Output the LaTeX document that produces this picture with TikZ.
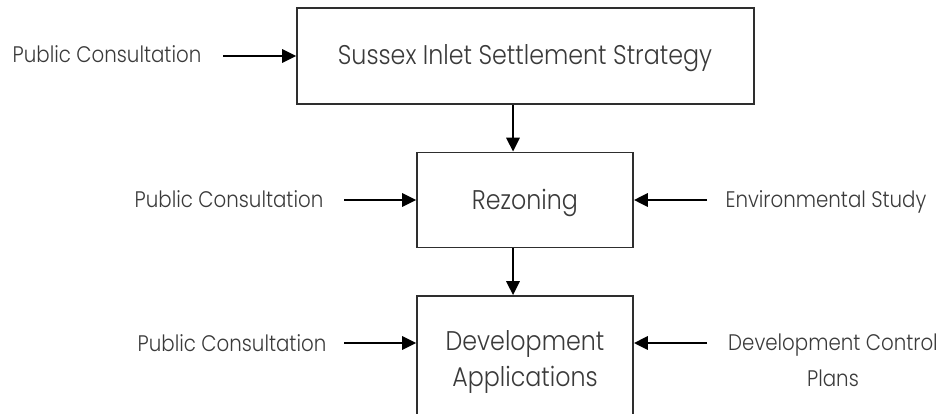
\documentclass[tikz,border=0pt]{standalone}
\usepackage{fontspec}
\setmainfont{Poppins Light}[FakeStretch=0.88]
\usetikzlibrary{arrows.meta}
\definecolor{txt}{HTML}{3A3A3A}
\definecolor{edge}{HTML}{2E2E2E}
\tikzset{
  x=1pt, y=-1pt,
  box/.style={draw=edge, line width=1.6pt, fill=white, inner sep=0pt},
  lbl/.style={text=txt, font=\fontsize{22.5}{26}\selectfont, inner sep=0pt, anchor=base},
  boxtxt/.style={text=txt, font=\fontsize{27}{32}\selectfont, inner sep=0pt, anchor=base},
  arr/.style={draw=black, line width=2.8pt, -{Triangle[length=14pt,width=13pt]}},
}
\begin{document}
\begin{tikzpicture}
\useasboundingbox (0,0) rectangle (944,414);
\clip (0,0) rectangle (944,414);
% boxes
\node[box, minimum width=457pt, minimum height=96pt] (top) at (525.5,56) {};
\node[box, minimum width=216pt, minimum height=95pt] (rez) at (525,200) {};
\node[box, minimum width=216pt, minimum height=160pt] (dev) at (525,376) {};
% box texts
\node[boxtxt] (toptxt) at (525,65) {Sussex Inlet Settlement Strategy};
\node[boxtxt] (reztxt) at (525,209) {Rezoning};
\node[boxtxt] (devtxta) at (525,350) {Development};
\node[boxtxt] (devtxtb) at (525,386) {Applications};
% labels
\node[lbl] (pc1) at (107,63) {Public Consultation};
\node[lbl] (pc2) at (229,207) {Public Consultation};
\node[lbl] (pc3) at (232,351) {Public Consultation};
\node[lbl] (env) at (826,207) {Environmental Study};
\node[lbl] (dcpa) at (833,350) {Development Control};
\node[lbl] (dcpb) at (833,386) {Plans};
% arrow start coordinates
\coordinate (a1) at (223,56);
\coordinate (a2) at (344,200);
\coordinate (a3) at (344,343);
\coordinate (a4) at (707,200);
\coordinate (a5) at (707,343);
% connectors
\draw[arr] (a1) -- (a1 -| top.west);
\draw[arr] (a2) -- (a2 -| rez.west);
\draw[arr] (a3) -- (a3 -| dev.west);
\draw[arr] (a4) -- (a4 -| rez.east);
\draw[arr] (a5) -- (a5 -| dev.east);
\draw[arr] ([xshift=-12.5pt]top.south) -- ([xshift=-12pt]rez.north);
\draw[arr] ([xshift=-12pt]rez.south) -- ([xshift=-12pt]dev.north);
\end{tikzpicture}
\end{document}
